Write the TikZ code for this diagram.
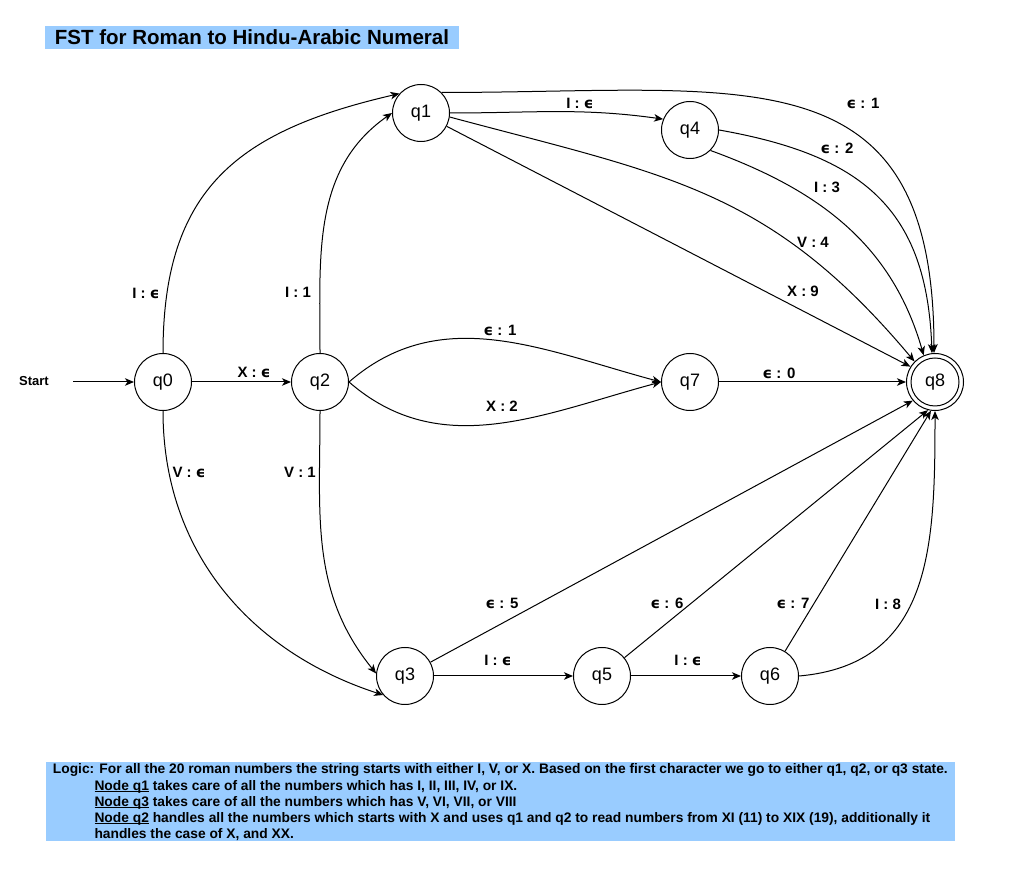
\documentclass[tikz,border=0pt]{standalone}
\usepackage{fontspec}
\setmainfont{Liberation Sans}
\newfontfamily\epsfont{DejaVu Sans}
\usetikzlibrary{arrows.meta}
\newcommand{\ep}{{\epsfont\bfseries ϵ}}
\newcommand{\myul}[1]{\setbox0=\hbox{#1}\rlap{\rule[-2pt]{\wd0}{1pt}}\box0\relax}
\definecolor{boxblue}{RGB}{153,204,255}
\begin{document}
\begin{tikzpicture}[x=1pt,y=1pt,
  state/.style={circle,draw,line width=1pt,minimum size=57pt,inner sep=0pt,font=\fontsize{18}{20}\selectfont},
  lbl/.style={font=\fontsize{15}{17}\selectfont\bfseries,inner sep=0pt},
  edge/.style={line width=1pt,-{Stealth[length=9pt,width=7.5pt,inset=2.5pt]}},
  logline/.style={anchor=west,inner sep=0pt,text height=10pt,text depth=3pt,font=\fontsize{13.8}{16}\selectfont\bfseries}
]
\useasboundingbox (0,0) rectangle (1036,875);
\fill[white] (0,0) rectangle (1036,875);

% title
\node[fill=boxblue,minimum width=414pt,minimum height=23pt,inner sep=0pt,
      font=\fontsize{20.5}{22}\selectfont\bfseries] (title) at (252,837.5) {FST for Roman to Hindu-Arabic Numeral};

% states
\node[state] (q0) at (163,493) {q0};
\node[state] (q2) at (320,493) {q2};
\node[state] (q1) at (421,762) {q1};
\node[state] (q4) at (690,745) {q4};
\node[state] (q7) at (690,493) {q7};
\node[state] (q8) at (935,493) {q8};
\draw[line width=1pt] (q8.center) circle (24);
\node[state] (q3) at (405,199) {q3};
\node[state] (q5) at (602,199) {q5};
\node[state] (q6) at (770,199) {q6};

% start
\node[font=\fontsize{13}{15}\selectfont\bfseries,inner sep=0pt] (start) at (34,494) {Start};
\coordinate (s0) at (73,493);
\draw[edge] (s0) -- (q0);

% edges
\draw[edge] (q0) -- (q2);
\draw[edge] (q0.north) to[out=90,in=193,looseness=1.2] (q1.138);
\draw[edge] (q2.north) to[out=90,in=215] (q1.west);
\draw[edge] (q0.south) to[out=-90,in=162] (q3.221);
\draw[edge] (q2.south) to[out=-90,in=129] (q3.175);
\draw[edge] (q2.east) to[out=41,in=165] (q7.west);
\draw[edge] (q2.east) to[out=-41,in=195] (q7.west);
\draw[edge] (q7) -- (q8);
\draw[edge] (q1.east) to[out=0,in=172] (q4.158);
\draw[edge] (q1.45) to[out=0,in=90,looseness=1.4] (q8.92);
\draw[edge] (q4.east) to[out=-10,in=92,looseness=1.2] (q8.96);
\draw[edge] (q4.-45) to[out=-20,in=106] (q8.113);
\draw[edge] (q1.-8) to[out=-15,in=130,looseness=1.1] (q8.135);
\draw[edge] (q1) -- (q8.148);
\draw[edge] (q3) -- (q5);
\draw[edge] (q5) -- (q6);
\draw[edge] (q3) -- (q8.220);
\draw[edge] (q5) -- (q8.256);
\draw[edge] (q6) -- (q8.262);
\draw[edge] (q6.east) to[out=5,in=-90,looseness=1.15] (q8.270);

% labels
\node[lbl] (l01) at (254,503) {X : \ep};
\node[lbl] (l02) at (146,582) {I : \ep};
\node[lbl] (l03) at (298,583) {I : 1};
\node[lbl] (l04) at (189,403) {V : \ep};
\node[lbl] (l05) at (300,403) {V : 1};
\node[lbl] (l06) at (500,545) {\ep{} : 1};
\node[lbl] (l07) at (502,469) {X : 2};
\node[lbl] (l08) at (779,502) {\ep{} : 0};
\node[lbl] (l09) at (580,772) {I : \ep};
\node[lbl] (l10) at (863,772) {\ep{} : 1};
\node[lbl] (l11) at (837,727) {\ep{} : 2};
\node[lbl] (l12) at (827,688) {I : 3};
\node[lbl] (l13) at (813,633) {V : 4};
\node[lbl] (l14) at (803,584) {X : 9};
\node[lbl] (l15) at (502,272) {\ep{} : 5};
\node[lbl] (l16) at (498,215) {I : \ep};
\node[lbl] (l17) at (667,272) {\ep{} : 6};
\node[lbl] (l18) at (688,215) {I : \ep};
\node[lbl] (l19) at (793,272) {\ep{} : 7};
\node[lbl] (l20) at (888,271) {I : 8};

% logic box
\node[fill=boxblue,minimum width=909pt,minimum height=79pt,inner sep=0pt] (logicbox) at (500.5,73.5) {};
\node[logline] (log1) at (52.7,105) {Logic: For all the 20 roman numbers the string starts with either I, V, or X. Based on the first character we go to either q1, q2, or q3 state.};
\node[logline] (log2) at (94.3,88.3) {\myul{Node q1} takes care of all the numbers which has I, II, III, IV, or IX.};
\node[logline] (log3) at (94.3,72) {\myul{Node q3} takes care of all the numbers which has V, VI, VII, or VIII};
\node[logline] (log4) at (94.3,56) {\myul{Node q2} handles all the numbers which starts with X and uses q1 and q2 to read numbers from XI (11) to XIX (19), additionally it};
\node[logline] (log5) at (94.3,39.5) {handles the case of X, and XX.};
\end{tikzpicture}
\end{document}
